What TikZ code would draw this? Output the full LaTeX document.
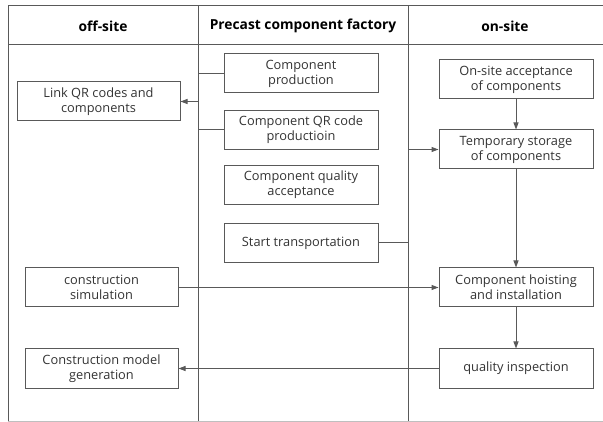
\documentclass[tikz,border=0pt]{standalone}
\usepackage{fontspec}
\setmainfont{Open Sans}
\usetikzlibrary{arrows.meta}
\definecolor{ln}{HTML}{595959}
\definecolor{tx}{HTML}{333333}
\begin{document}
\begin{tikzpicture}[x=1pt,y=-1pt,
  box/.style={draw=ln,line width=1pt,minimum width=154pt,minimum height=39pt,inner sep=0pt,align=center,text=tx,font=\fontsize{12.8}{15}\selectfont},
  hdr/.style={text=black,font=\fontsize{13.8}{15}\selectfont\bfseries},
  frame/.style={draw=ln,line width=1pt},
  conn/.style={draw=ln,line width=1pt},
  arr/.style={conn,-{Triangle[length=7pt,width=5pt]}}]
\useasboundingbox (0,0) rectangle (603,422);
% frame
\draw[frame] (603,6) -- (8,6) -- (8,421);
\draw[draw=black!25,line width=0.8pt] (8,421) -- (603,421);
\draw[frame] (8,45) -- (603,45);
\draw[frame] (198,6) -- (198,421);
\draw[frame] (408,6) -- (408,421);
\node[hdr] (h1) at (103,26) {off-site};
\node[hdr] (h2) at (303,26) {Precast component factory};
\node[hdr] (h3) at (505,26) {on-site};
% boxes
\node[box,minimum width=163pt] (link) at (98.5,101.5) {Link QR codes and\\components};
\node[box] (prod) at (301,73.5) {Component\\production};
\node[box] (qrp) at (301,130) {Component QR code\\productioin};
\node[box] (qa) at (301,185) {Component quality\\acceptance};
\node[box] (st) at (301,243) {Start transportation};
\node[box] (osa) at (516,79.5) {On-site acceptance\\of components};
\node[box] (tmp) at (516,149.5) {Temporary storage\\of components};
\node[box] (hoist) at (516,287.5) {Component hoisting\\and installation};
\node[box] (qi) at (516,368.5) {quality inspection};
\node[box,minimum width=153pt] (sim) at (101.5,287.5) {construction\\simulation};
\node[box,minimum width=153pt] (cmg) at (101.5,368.5) {Construction model\\generation};
% connectors
\coordinate (j1) at (198,101.5);
\draw[conn] (prod.west) -| (j1);
\draw[conn] (qrp.west) -| (j1);
\draw[arr] (j1) -- (link.east);
\coordinate (j2) at (408,149.5);
\draw[conn] (st.east) -| (j2);
\draw[arr] (j2) -- (tmp.west);
\draw[arr] (osa) -- (tmp);
\draw[arr] (tmp) -- (hoist);
\draw[arr] (hoist) -- (qi);
\draw[arr] (sim.east) -- (hoist.west);
\draw[arr] (qi.west) -- (cmg.east);
\end{tikzpicture}
\end{document}
